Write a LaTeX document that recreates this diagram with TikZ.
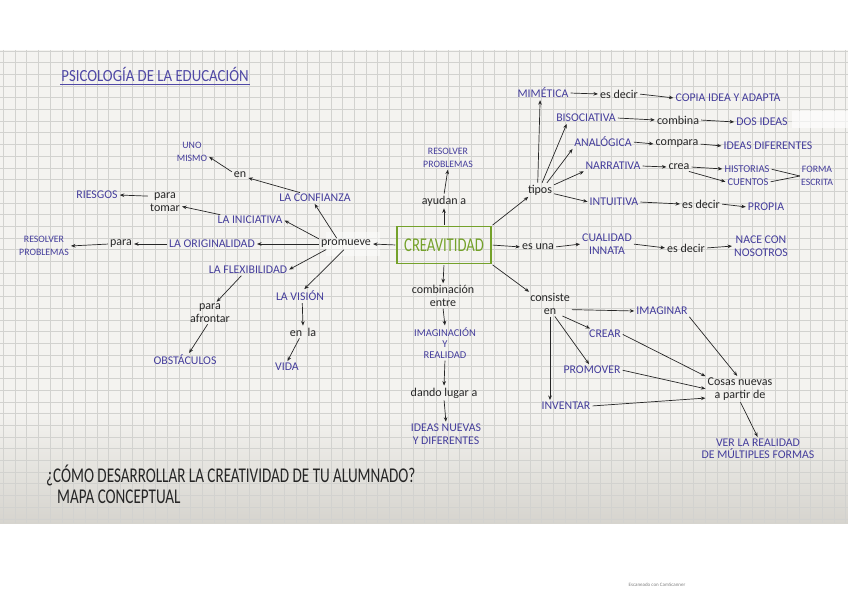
\documentclass[tikz,border=0pt]{standalone}
\usepackage{fontspec}
\setmainfont{Carlito}
\usetikzlibrary{arrows.meta}
\definecolor{ink}{HTML}{453E9C}
\definecolor{ttl}{HTML}{5049A6}
\definecolor{grn}{HTML}{74A12A}
\definecolor{blk}{HTML}{262626}
\definecolor{paperA}{HTML}{F4F3F0}
\definecolor{paperB}{HTML}{D6D4CE}
\definecolor{gridc}{HTML}{D2D2CF}
\begin{document}
\begin{tikzpicture}[x=1pt,y=-1pt,
  term/.style={text=ink,font=\fontsize{11.8}{12.5}\selectfont,inner sep=1pt,align=center},
  termsm/.style={term,font=\fontsize{9.8}{12.5}\selectfont},
  conn/.style={text=blk,font=\fontsize{12}{12.5}\selectfont,inner sep=1pt,align=center},
  arr/.style={draw=blk,line width=0.7pt,-{Stealth[length=4.5pt,width=3.6pt]},shorten >=1pt,shorten <=1pt},
  ln/.style={draw=blk,line width=0.7pt,shorten <=1pt}]
\useasboundingbox (0,0) rectangle (848,599);
\fill[white] (0,0) rectangle (848,599);
% paper
\fill[paperA] (0,50) rectangle (848,523);
\shade[top color=paperA,bottom color=paperB] (0,410) rectangle (848,523);
\foreach \i in {0,...,72} \draw[gridc,line width=0.5pt] (3.3+\i*11.7,50) -- (3.3+\i*11.7,523);
\foreach \j in {0,...,40} \draw[gridc,line width=0.5pt] (0,50.8+\j*11.7) -- (848,50.8+\j*11.7);
% glare patches of the scan
\fill[white,opacity=0.65] (792,111) rectangle (848,128);
\fill[white,opacity=0.45] (326,232) rectangle (380,256);

% title
\node[text=ttl,font=\fontsize{17}{17}\selectfont,inner sep=0pt] (title) at (155,74) {\scalebox{0.87}[1]{PSICOLOGÍA DE LA EDUCACIÓN}};
\draw[ttl,line width=1.3pt] (title.south west) ++(-1,3) coordinate (ul1) -- ([xshift=1pt]title.south east |- ul1);

% central box
\node[draw=grn,line width=1.5pt,text=grn,minimum width=94pt,minimum height=37pt,inner sep=0pt,font=\fontsize{19.5}{19.5}\selectfont] (box) at (444,245) {\scalebox{0.75}[1]{CREAVITIDAD}};

% up
\node[conn] (ayudan) at (444,201) {ayudan a};
\node[termsm] (res1) at (448,158) {RESOLVER\\PROBLEMAS};
\draw[arr] (box.north) -- (ayudan.south);
\draw[arr] (ayudan.north) -- (res1.south);

% down
\node[conn] (comb) at (443,296) {combinación\\entre};
\node[term,font=\fontsize{10.5}{11}\selectfont] (imag) at (445,343) {IMAGINACIÓN\\Y\\REALIDAD};
\node[conn] (dando) at (444,393) {dando lugar a};
\node[term] (ideas) at (446,434) {IDEAS NUEVAS\\Y DIFERENTES};
\draw[arr] (box.south) -- (comb.north);
\draw[arr] (comb.south) -- (imag.north);
\draw[arr] (imag.south) -- (dando.north);
\draw[arr] (dando.south) -- (ideas.north);

% left
\node[conn] (prom) at (346,244) {promueve};
\node[term] (conf) at (315,198) {LA CONFIANZA};
\node[term] (inic) at (250,220) {LA INICIATIVA};
\node[term] (orig) at (212,244) {LA ORIGINALIDAD};
\node[term] (flex) at (248,270) {LA FLEXIBILIDAD};
\node[term] (vis) at (300,296) {LA VISIÓN};
\node[conn] (en1) at (240,175) {en};
\node[termsm] (uno) at (192,152) {UNO\\MISMO};
\node[conn] (ptomar) at (165,202) {para\\tomar};
\node[term] (ries) at (97,195) {RIESGOS};
\node[conn] (para2) at (121,244) {para};
\node[termsm] (res2) at (44,246) {RESOLVER\\PROBLEMAS};
\node[conn] (pafr) at (210,313) {para\\afrontar};
\node[term] (obst) at (185,360) {OBSTÁCULOS};
\node[conn] (enla) at (303,332) {en\ \ la};
\node[term] (vida) at (287,367) {VIDA};

\draw[arr] (box.west) -- (prom.east);
\draw[arr] (prom.150) -- (conf.-100);
\draw[arr] (prom.170) -- (inic.east);
\draw[arr] (prom.west) -- (orig.east);
\draw[arr] (prom.195) -- (flex.east);
\draw[arr] (prom.-105) -- (vis.60);
\draw[arr] (conf.160) -- (en1.-20);
\draw[arr] (en1.160) -- (uno.-15);
\draw[arr] (inic.170) -- (ptomar.-15);
\draw[arr] (ptomar.160) -- (ries.east);
\draw[arr] (orig.west) -- (para2.east);
\draw[arr] (para2.west) -- (res2.east);
\draw[arr] (flex.-140) -- (pafr.60);
\draw[arr] (pafr.-100) -- (obst.60);
\draw[arr] (vis.-70) -- (enla.north);
\draw[arr] (enla.-120) -- (vida.north);

% right: tipos
\node[conn] (tipos) at (540,190) {tipos};
\node[term] (mim) at (543,93) {MIMÉTICA};
\node[conn] (ed1) at (619,94) {es decir};
\node[term] (copia) at (728,98) {COPIA IDEA Y ADAPTA};
\node[term] (biso) at (586,118) {BISOCIATIVA};
\node[conn] (comb2) at (678,120) {combina};
\node[term] (dos) at (762,122) {DOS IDEAS};
\node[term] (anal) at (603,142) {ANALÓGICA};
\node[conn] (comp) at (677,144) {compara};
\node[term] (idif) at (768,146) {IDEAS DIFERENTES};
\node[term] (narr) at (613,166) {NARRATIVA};
\node[conn] (crea) at (679,167) {crea};
\node[term,font=\fontsize{10.5}{12.5}\selectfont] (hist) at (747,169) {HISTORIAS};
\node[term,font=\fontsize{10.5}{12.5}\selectfont] (cuen) at (748,182) {CUENTOS};
\node[termsm] (forma) at (817,176) {FORMA\\ESCRITA};
\node[term] (intu) at (614,202) {INTUITIVA};
\node[conn] (ed2) at (701,204) {es decir};
\node[term] (prop) at (766,207) {PROPIA};

\draw[arr] (box.north east) -- (tipos.-150);
\draw[arr] (tipos.110) -- (mim.-115);
\draw[arr] (tipos.75) -- (biso.-165);
\draw[arr] (tipos.45) -- (anal.south west);
\draw[arr] (tipos.20) -- (narr.-170);
\draw[arr] (tipos.-15) -- (intu.west);
\draw[arr] (mim.east) -- (ed1.west);
\draw[arr] (ed1.east) -- (copia.west);
\draw[arr] (biso.east) -- (comb2.west);
\draw[arr] (comb2.east) -- (dos.west);
\draw[arr] (anal.east) -- (comp.west);
\draw[arr] (comp.east) -- (idif.west);
\draw[arr] (narr.east) -- (crea.west);
\draw[arr] (crea.east) -- (hist.west);
\draw[arr] (crea.-25) -- (cuen.west);
\draw[ln] (hist.east) -- (forma.west);
\draw[ln] (cuen.east) -- (forma.west);
\draw[arr] (intu.east) -- (ed2.west);
\draw[arr] (ed2.east) -- (prop.west);

% right: es una
\node[conn] (esuna) at (538,247) {es una};
\node[term] (cual) at (607,244) {CUALIDAD\\INNATA};
\node[conn] (ed3) at (686,248) {es decir};
\node[term] (nace) at (761,246) {NACE CON\\NOSOTROS};
\draw[arr] (box.east) -- (esuna.west);
\draw[arr] (esuna.east) -- (cual.west);
\draw[arr] (cual.east) -- (ed3.west);
\draw[arr] (ed3.east) -- (nace.west);

% right: consiste en
\node[conn] (cons) at (550,304) {consiste\\en};
\node[term] (imagi) at (662,311) {IMAGINAR};
\node[term] (crear) at (605,334) {CREAR};
\node[term] (promo) at (592,370) {PROMOVER};
\node[term] (inve) at (566,406) {INVENTAR};
\node[conn] (cosas) at (740,389) {Cosas nuevas\\a partir de};
\node[term] (ver) at (758,449) {VER LA REALIDAD\\DE MÚLTIPLES FORMAS};
\draw[arr] (box.south east) -- (cons.150);
\draw[arr] (cons.-15) -- (imagi.west);
\draw[arr] (cons.-45) -- (crear.160);
\draw[arr] (cons.-70) -- (promo.115);
\draw[arr] (cons.south) -- (cons.south |- inve.north);
\draw[arr] (imagi.south east) -- (cosas.100);
\draw[arr] (crear.east) -- (cosas.north west);
\draw[arr] (promo.east) -- (cosas.west);
\draw[arr] (inve.east) -- (cosas.-165);
\draw[arr] (cosas.south) -- (ver.north);

% bottom titles
\node[text=blk,font=\fontsize{21}{21}\selectfont,inner sep=0pt,anchor=west] (q) at (46,475) {\scalebox{0.72}[1]{¿CÓMO DESARROLLAR LA CREATIVIDAD DE TU ALUMNADO?}};
\node[text=blk,font=\fontsize{21}{21}\selectfont,inner sep=0pt,anchor=west] (mapa) at (57,497) {\scalebox{0.72}[1]{MAPA CONCEPTUAL}};

% scanner mark
\node[text=gray,font=\fontsize{5}{5}\selectfont,inner sep=0pt] (scan) at (657,585) {Escaneado con CamScanner};
\end{tikzpicture}
\end{document}
